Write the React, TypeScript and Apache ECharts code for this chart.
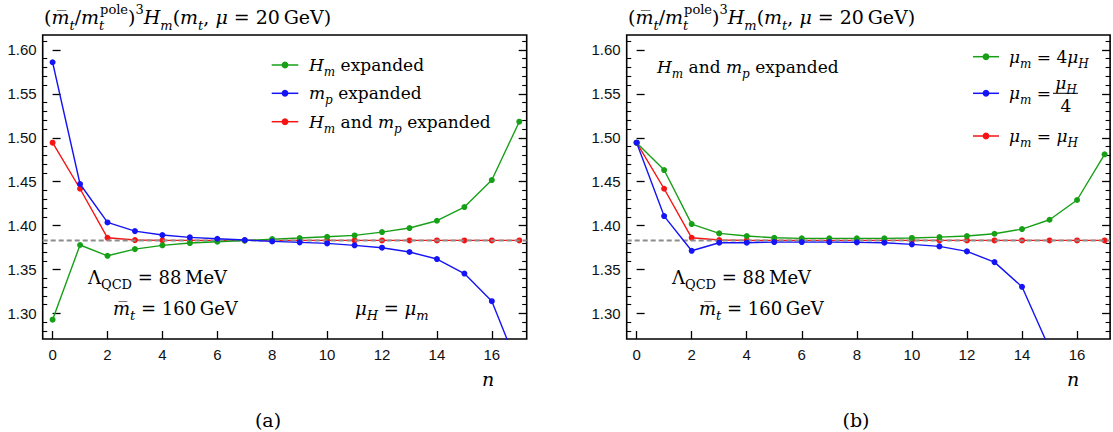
import React, { useEffect, useRef } from 'react';
import * as echarts from 'echarts';

// ---------- data ----------
const nValues = [0, 1, 2, 3, 4, 5, 6, 7, 8, 9, 10, 11, 12, 13, 14, 15, 16, 17];
// panel (a)
const hmExpanded = [1.293, 1.378, 1.3657, 1.3733, 1.3776, 1.3802, 1.3817, 1.383, 1.3847, 1.3859, 1.3874, 1.3889, 1.3927, 1.3973, 1.4056, 1.4212, 1.4519, 1.5183];
const mpExpanded = [1.586, 1.4474, 1.4037, 1.3938, 1.3893, 1.3867, 1.3851, 1.3836, 1.3821, 1.381, 1.3798, 1.3776, 1.3749, 1.37, 1.362, 1.3455, 1.314, 1.236];
const bothExpanded = [1.4944, 1.442, 1.3862, 1.3836, 1.3833, 1.3832, 1.3832, 1.3832, 1.3832, 1.3832, 1.3832, 1.3832, 1.3832, 1.3832, 1.3832, 1.3832, 1.3832, 1.3832];
// panel (b)
const muUp = [1.4944, 1.4633, 1.4018, 1.3912, 1.3882, 1.3862, 1.3855, 1.3855, 1.3855, 1.3855, 1.386, 1.387, 1.3882, 1.3908, 1.3961, 1.4067, 1.4292, 1.4812];
const muDown = [1.4944, 1.4109, 1.3714, 1.3806, 1.3806, 1.3813, 1.3813, 1.3813, 1.381, 1.3806, 1.3787, 1.3764, 1.3707, 1.3585, 1.3304, 1.26];
const muEqual = [1.4944, 1.442, 1.3862, 1.3836, 1.3833, 1.3832, 1.3832, 1.3832, 1.3832, 1.3832, 1.3832, 1.3832, 1.3832, 1.3832, 1.3832, 1.3832, 1.3832, 1.3832];
const referenceValue = 1.383;

const xTicks = [0, 2, 4, 6, 8, 10, 12, 14, 16];
const yMajorTicks = [1.3, 1.35, 1.4, 1.45, 1.5, 1.55, 1.6];
const yMinorTicks = [1.28, 1.29, 1.31, 1.32, 1.33, 1.34, 1.36, 1.37, 1.38, 1.39, 1.41, 1.42, 1.43, 1.44, 1.46, 1.47, 1.48, 1.49, 1.51, 1.52, 1.53, 1.54, 1.56, 1.57, 1.58, 1.59, 1.61];

const X_MIN = -0.36;
const Y_MIN = 1.271;
const Y_MAX = 1.617;

const GREEN = '#17a017';
const BLUE = '#1414f5';
const RED = '#f51414';
const GREY = '#8c8c8c';

const SERIF = "'DejaVu Serif', serif";
const SANS = "'Liberation Sans', Arial, sans-serif";

function richSet(S: number) {
  const L = Math.round(S * 1.55);
  const base = { fontFamily: SERIF, fontSize: S, lineHeight: L, color: '#000' };
  const s = Math.round(S * 0.7);
  return {
    rm: { ...base },
    it: { ...base, fontStyle: 'italic' },
    sub: { fontFamily: SERIF, fontSize: s, lineHeight: Math.round(S * 0.95), verticalAlign: 'bottom', color: '#000' },
    subit: { fontFamily: SERIF, fontSize: s, lineHeight: Math.round(S * 0.95), verticalAlign: 'bottom', color: '#000', fontStyle: 'italic' },
    subz: { fontFamily: SERIF, fontSize: s, lineHeight: Math.round(S * 0.95), verticalAlign: 'bottom', color: '#000', fontStyle: 'italic', width: 1 },
    sup: { fontFamily: SERIF, fontSize: s, lineHeight: Math.round(S * 0.8), verticalAlign: 'top', color: '#000' },
  };
}

function txt(x: number, y: number, text: string, S: number, align: string = 'left') {
  return {
    type: 'text',
    x,
    y,
    silent: true,
    style: { text, rich: richSet(S), align, verticalAlign: 'middle', fontFamily: SERIF, fontSize: S, fill: '#000' },
  };
}

function legendMark(x1: number, x2: number, y: number, color: string) {
  return [
    { type: 'line', silent: true, shape: { x1, y1: y, x2, y2: y }, style: { stroke: color, lineWidth: 1.5 } },
    { type: 'circle', silent: true, shape: { cx: (x1 + x2) / 2, cy: y, r: 3.4 }, style: { fill: color } },
  ];
}

const MBAR = 'm\u0305';
const TITLE = `{rm|(}{it|${MBAR}}{subit|t}{rm|/}{it|m}{subz|t}{sup|pole}{rm|)}{sup|3}{it|H}{subit|m}{rm|(}{it|m}{subit|t}{rm|, }{it|\u03bc}{rm| = 20\u2009GeV)}`;
const LAMBDA = '{rm|\u039b}{sub|QCD}{rm| = 88\u2009MeV}';
const MTBAR = `{it|${MBAR}}{subit|t}{rm| = 160\u2009GeV}`;

function makeAxes(gi: number, xMax: number) {
  const xAxis = {
    type: 'value',
    gridIndex: gi,
    min: X_MIN,
    max: xMax,
    axisLine: { show: false },
    splitLine: { show: false },
    axisTick: { show: true, inside: true, length: 8, customValues: xTicks, lineStyle: { color: '#000', width: 1.3 } },
    axisLabel: { show: true, customValues: xTicks, fontFamily: SANS, fontSize: 15, color: '#111', margin: 8 },
  };
  const yBase = {
    type: 'value',
    gridIndex: gi,
    min: Y_MIN,
    max: Y_MAX,
    axisLine: { show: false },
    splitLine: { show: false },
  };
  const yAxes = [
    {
      ...yBase,
      position: 'left',
      axisTick: { show: true, inside: true, length: 8, customValues: yMajorTicks, lineStyle: { color: '#000', width: 1.3 } },
      axisLabel: { show: true, customValues: yMajorTicks, formatter: (v: number) => v.toFixed(2), fontFamily: SANS, fontSize: 15, color: '#111', margin: 6 },
    },
    {
      ...yBase,
      position: 'left',
      axisTick: { show: true, inside: true, length: 4.5, customValues: yMinorTicks, lineStyle: { color: '#000', width: 1.1 } },
      axisLabel: { show: false },
    },
    {
      ...yBase,
      position: 'right',
      axisTick: { show: true, inside: true, length: 8, customValues: yMajorTicks, lineStyle: { color: '#000', width: 1.3 } },
      axisLabel: { show: false },
    },
    {
      ...yBase,
      position: 'right',
      axisTick: { show: true, inside: true, length: 4.5, customValues: yMinorTicks, lineStyle: { color: '#000', width: 1.1 } },
      axisLabel: { show: false },
    },
  ];
  return { xAxis, yAxes };
}

function lineSeries(name: string, xi: number, yi: number, vals: number[], color: string, z: number) {
  return {
    name,
    type: 'line',
    xAxisIndex: xi,
    yAxisIndex: yi,
    data: vals.map((v, i) => [nValues[i], v]),
    symbol: 'circle',
    symbolSize: 6,
    showSymbol: true,
    clip: true,
    z,
    lineStyle: { color, width: 1.4 },
    itemStyle: { color },
    silent: true,
  };
}

function refSeries(xi: number, yi: number, xMax: number) {
  return {
    name: 'ref',
    type: 'line',
    xAxisIndex: xi,
    yAxisIndex: yi,
    data: [[X_MIN, referenceValue], [xMax, referenceValue]],
    symbol: 'none',
    z: 3,
    lineStyle: { color: GREY, width: 2, type: [5, 3] },
    silent: true,
  };
}

export default function App() {
  const ref = useRef<HTMLDivElement>(null);
  useEffect(() => {
    document.body.style.margin = '0';
    if (!ref.current) return;
    const chart = echarts.init(ref.current, undefined, { renderer: 'svg' });
    const XMAX_A = 17.27;
    const XMAX_B = 17.2;
    const a = makeAxes(0, XMAX_A);
    const b = makeAxes(1, XMAX_B);
    const gridBase = { top: 35, height: 304, show: true, borderColor: '#000', borderWidth: 1.6, backgroundColor: 'transparent', containLabel: false };
    const option = {
      animation: false,
      backgroundColor: '#fff',
      grid: [
        { ...gridBase, left: 42.7, width: 484 },
        { ...gridBase, left: 626.7, width: 483.4 },
      ],
      xAxis: [a.xAxis, b.xAxis],
      yAxis: [...a.yAxes, ...b.yAxes],
      series: [
        lineSeries('H_m and m_p expanded', 0, 0, bothExpanded, RED, 2),
        refSeries(0, 0, XMAX_A),
        lineSeries('H_m expanded', 0, 0, hmExpanded, GREEN, 4),
        lineSeries('m_p expanded', 0, 0, mpExpanded, BLUE, 4),
        lineSeries('mu_m = mu_H', 1, 4, muEqual, RED, 2),
        refSeries(1, 4, XMAX_B),
        lineSeries('mu_m = 4 mu_H', 1, 4, muUp, GREEN, 4),
        lineSeries('mu_m = mu_H/4', 1, 4, muDown, BLUE, 4),
      ],
      graphic: [
        txt(44, 17, TITLE, 19),
        txt(628, 17, TITLE, 19),
        // legend (a)
        ...legendMark(271.7, 298.3, 65, GREEN),
        txt(309, 65, '{it|H}{subit|m}{rm| expanded}', 17),
        ...legendMark(271.7, 298.3, 93.3, BLUE),
        txt(309, 93.3, '{it|m}{subit|p}{rm| expanded}', 17),
        ...legendMark(271.7, 298.3, 121.7, RED),
        txt(309, 121.7, '{it|H}{subit|m}{rm| and }{it|m}{subit|p}{rm| expanded}', 17),
        // annotations (a)
        txt(88, 277, LAMBDA, 18),
        txt(113, 308, MTBAR, 18),
        txt(355, 308, '{it|\u03bc}{subit|H}{rm| = }{it|\u03bc}{subit|m}', 18),
        // legend (b)
        ...legendMark(973, 999, 56.7, GREEN),
        txt(1009, 56.7, '{it|\u03bc}{subit|m}{rm| = 4}{it|\u03bc}{subit|H}', 17),
        ...legendMark(973, 999, 93.3, BLUE),
        txt(1009, 93.3, '{it|\u03bc}{subit|m}{rm| = }', 17),
        txt(1066, 83, '{it|\u03bc}{subit|H}', 17, 'center'),
        { type: 'line', silent: true, shape: { x1: 1053, y1: 93.3, x2: 1078, y2: 93.3 }, style: { stroke: '#000', lineWidth: 1 } },
        txt(1066, 106, '{rm|4}', 17, 'center'),
        ...legendMark(973, 999, 136, RED),
        txt(1009, 136, '{it|\u03bc}{subit|m}{rm| = }{it|\u03bc}{subit|H}', 17),
        // annotations (b)
        txt(657, 67, '{it|H}{subit|m}{rm| and }{it|m}{subit|p}{rm| expanded}', 17),
        txt(672, 277, LAMBDA, 18),
        txt(699, 308, MTBAR, 18),
        // axis names / panel labels
        txt(488, 379, '{it|n}', 19, 'center'),
        txt(1073, 379, '{it|n}', 19, 'center'),
        txt(268, 420, '{rm|(a)}', 19, 'center'),
        txt(856, 420, '{rm|(b)}', 19, 'center'),
      ],
    };
    chart.setOption(option as any);
    return () => chart.dispose();
  }, []);
  return <div ref={ref} style={{ width: 1113, height: 432 }} />;
}
